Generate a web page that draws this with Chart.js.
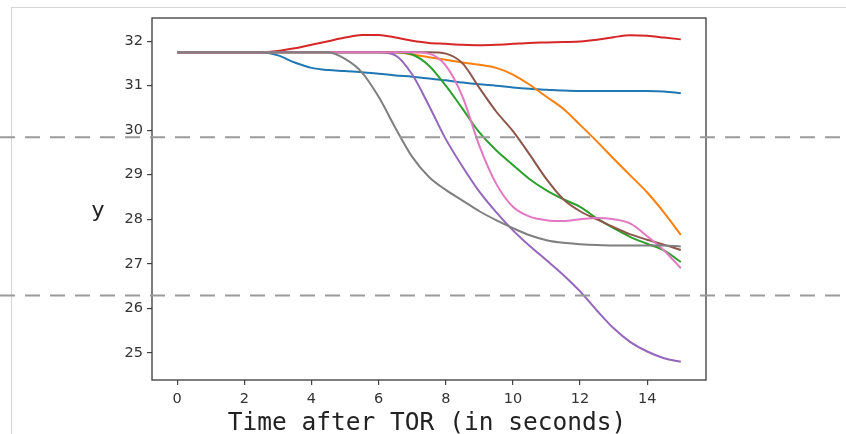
<!DOCTYPE html>
<html>
<head>
<meta charset="utf-8">
<script src="https://cdn.jsdelivr.net/npm/chart.js@4.4.0/dist/chart.umd.min.js"></script>
<style>
  html, body { margin: 0; padding: 0; background: #fff; }
  #wrap { position: relative; width: 846px; height: 434px; overflow: hidden; }
  #frame { position: absolute; left: 11px; top: 7px; right: -2px; bottom: -2px; border-top: 1px solid #d6d6d6; border-left: 1px solid #d6d6d6; }
  canvas { position: absolute; left: 0; top: 0; }
</style>
</head>
<body>
<div id="wrap"><div id="frame"></div><canvas id="tor-chart" width="846" height="434"></canvas></div>
<script>
// time samples (seconds after TOR)
const times = [0, 0.5, 1, 1.5, 2, 2.5, 3, 3.5, 4, 4.5, 5, 5.5, 6, 6.5, 7, 7.5,
               8, 8.5, 9, 9.5, 10, 10.5, 11, 11.5, 12, 12.5, 13, 13.5, 14, 14.5, 15];

// one list per run
const blueY   = [31.75, 31.75, 31.75, 31.75, 31.75, 31.75, 31.68, 31.52, 31.40, 31.35, 31.33, 31.30, 31.27, 31.23, 31.20, 31.16,
                 31.12, 31.07, 31.03, 31.00, 30.96, 30.93, 30.91, 30.89, 30.88, 30.88, 30.88, 30.88, 30.88, 30.87, 30.83];
const orangeY = [31.75, 31.75, 31.75, 31.75, 31.75, 31.75, 31.75, 31.75, 31.75, 31.75, 31.75, 31.75, 31.75, 31.75, 31.70, 31.64,
                 31.58, 31.52, 31.47, 31.40, 31.25, 31.02, 30.75, 30.48, 30.12, 29.75, 29.36, 28.98, 28.60, 28.15, 27.65];
const greenY  = [31.75, 31.75, 31.75, 31.75, 31.75, 31.75, 31.75, 31.75, 31.75, 31.75, 31.75, 31.75, 31.75, 31.75, 31.70, 31.45,
                 31.00, 30.48, 29.95, 29.55, 29.22, 28.90, 28.65, 28.45, 28.28, 28.02, 27.80, 27.60, 27.45, 27.30, 27.04];
const redY    = [31.75, 31.75, 31.75, 31.75, 31.75, 31.75, 31.78, 31.84, 31.92, 32.00, 32.08, 32.14, 32.14, 32.08, 32.01, 31.96,
                 31.94, 31.92, 31.91, 31.92, 31.94, 31.96, 31.97, 31.98, 31.99, 32.03, 32.09, 32.13, 32.12, 32.08, 32.04];
const purpleY = [31.75, 31.75, 31.75, 31.75, 31.75, 31.75, 31.75, 31.75, 31.75, 31.75, 31.75, 31.75, 31.75, 31.68, 31.25, 30.55,
                 29.80, 29.18, 28.62, 28.16, 27.75, 27.40, 27.08, 26.75, 26.38, 25.95, 25.55, 25.24, 25.03, 24.88, 24.80];
const brownY  = [31.75, 31.75, 31.75, 31.75, 31.75, 31.75, 31.75, 31.75, 31.75, 31.75, 31.75, 31.75, 31.75, 31.75, 31.75, 31.75,
                 31.72, 31.50, 30.95, 30.42, 29.98, 29.45, 28.90, 28.45, 28.18, 28.00, 27.82, 27.66, 27.54, 27.43, 27.31];
const pinkY   = [31.75, 31.75, 31.75, 31.75, 31.75, 31.75, 31.75, 31.75, 31.75, 31.75, 31.75, 31.75, 31.75, 31.75, 31.75, 31.72,
                 31.45, 30.75, 29.65, 28.80, 28.28, 28.06, 27.98, 27.96, 28.00, 28.03, 28.00, 27.90, 27.62, 27.30, 26.90];
const grayY   = [31.75, 31.75, 31.75, 31.75, 31.75, 31.75, 31.75, 31.75, 31.75, 31.75, 31.60, 31.30, 30.75, 30.05, 29.40, 28.95,
                 28.66, 28.42, 28.18, 27.98, 27.80, 27.64, 27.53, 27.47, 27.44, 27.42, 27.41, 27.41, 27.41, 27.41, 27.39];

const seriesY = [blueY, orangeY, greenY, redY, purpleY, brownY, pinkY, grayY];
const colors = ['#1f77b4', '#ff7f0e', '#2ca02c', '#d62728', '#9467bd', '#8c564b', '#e377c2', '#7f7f7f'];

const xTicks = [0, 2, 4, 6, 8, 10, 12, 14];
const yTicks = [25, 26, 27, 28, 29, 30, 31, 32];
const thresholds = [29.84, 26.29]; // the two dashed lines

const xLabel = 'Time after TOR (in seconds)';
const yLabel = 'y';

// frame, dashed lines and axis labels
const extras = {
    id: 'extras',
    afterDraw(chart) {
        const ctx = chart.ctx;
        const area = chart.chartArea;
        const yScale = chart.scales.y;
        ctx.save();

        // box round the plot
        ctx.strokeStyle = '#3a3a3a';
        ctx.lineWidth = 1.3;
        ctx.strokeRect(area.left, area.top, area.right - area.left, area.bottom - area.top);

        // dashed lines go right across the picture
        ctx.strokeStyle = '#9a9a9a';
        ctx.lineWidth = 2;
        ctx.setLineDash([15, 10]);
        thresholds.forEach(v => {
            const py = yScale.getPixelForValue(v);
            ctx.beginPath();
            ctx.moveTo(0, py);
            ctx.lineTo(chart.width, py);
            ctx.stroke();
        });
        ctx.setLineDash([]);

        ctx.fillStyle = '#222';
        ctx.textAlign = 'center';
        ctx.textBaseline = 'alphabetic';
        ctx.font = '24.5px "DejaVu Sans Mono"';
        ctx.fillText(xLabel, (area.left + area.right) / 2 - 2, 430);

        ctx.font = '22px "DejaVu Sans"';
        ctx.fillText(yLabel, area.left - 54, 217);
        ctx.restore();
    }
};

const ctx = document.getElementById('tor-chart').getContext('2d');
new Chart(ctx, {
    type: 'line',
    data: {
        datasets: seriesY.map((ys, i) => ({
            data: times.map((t, j) => ({ x: t, y: ys[j] })),
            borderColor: colors[i],
            borderWidth: 2,
            pointRadius: 0,
            fill: false,
            cubicInterpolationMode: 'monotone',
            order: seriesY.length - i // later runs on top, like matplotlib
        }))
    },
    options: {
        responsive: false,
        animation: false,
        layout: { padding: { left: 0, right: 140, top: 18, bottom: 0 } },
        plugins: {
            legend: { display: false },
            tooltip: { enabled: false }
        },
        scales: {
            x: {
                type: 'linear',
                min: -0.75,
                max: 15.75,
                afterBuildTicks: s => { s.ticks = xTicks.map(v => ({ value: v })); },
                afterFit: s => { s.height = 54; },
                border: { display: false },
                grid: { drawOnChartArea: false, drawTicks: true, tickLength: 5, color: '#444', lineWidth: 1.2 },
                ticks: { color: '#333', font: { family: 'DejaVu Sans', size: 14.5 }, padding: 6, maxRotation: 0 }
            },
            y: {
                type: 'linear',
                min: 24.39,
                max: 32.52,
                afterBuildTicks: s => { s.ticks = yTicks.map(v => ({ value: v })); },
                afterFit: s => { s.width = 152; },
                border: { display: false },
                grid: { drawOnChartArea: false, drawTicks: true, tickLength: 5, color: '#444', lineWidth: 1.2 },
                ticks: { color: '#333', font: { family: 'DejaVu Sans', size: 14.5 }, padding: 4 }
            }
        }
    },
    plugins: [extras]
});
</script>
</body>
</html>
